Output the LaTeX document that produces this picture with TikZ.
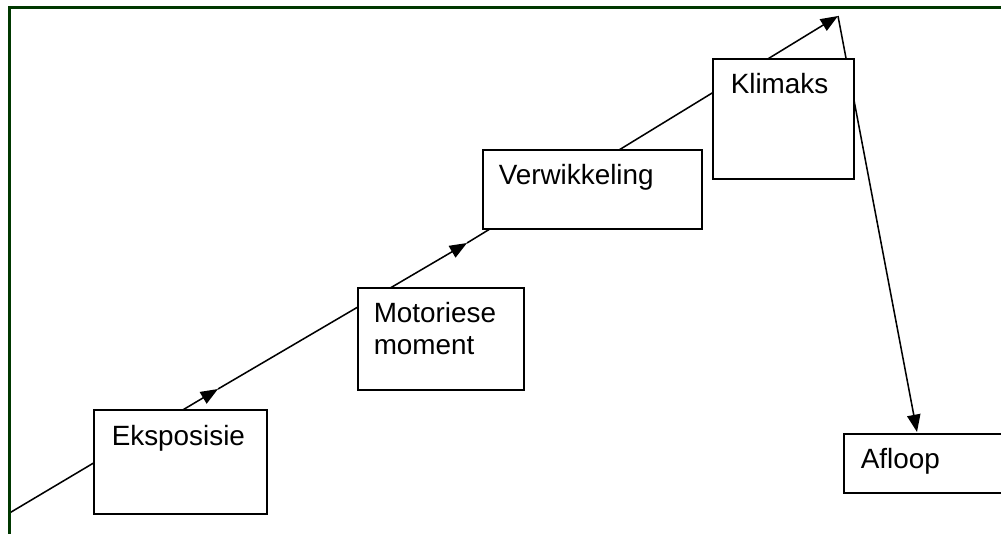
\documentclass[tikz,border=0pt]{standalone}
\usepackage{fontspec}
\setmainfont{Liberation Sans}
\usetikzlibrary{arrows.meta}
\definecolor{framegreen}{RGB}{0,56,0}
\begin{document}
\begin{tikzpicture}[x=0.75pt,y=-0.75pt,
  box/.style={draw=black,line width=1.4pt,fill=white,inner sep=0pt,anchor=north west},
  lbl/.style={inner sep=0pt,font=\fontsize{20.9pt}{24pt}\selectfont,align=left},
  conn/.style={line width=1.15pt,-{Triangle[length=13pt,width=10pt]}},
  frameline/.style={draw=framegreen,line width=2.5pt}]
\useasboundingbox (0,0) rectangle (1001,533);
\clip (0,0) rectangle (1001,533);
% arrow tips
\coordinate (p0) at (9.5,513);
\coordinate (p1) at (218,389);
\coordinate (p2) at (467,243);
\coordinate (p3) at (838,16);
\coordinate (p4) at (917,432);
\draw[conn] (p0) -- (p1);
\draw[conn] (p1) -- (p2);
\draw[conn] (p2) -- (p3);
\draw[conn] (p3) -- (p4);
% boxes
\node[box,minimum width=129.75pt,minimum height=78pt] (eks) at (93,409) {};
\node[box,minimum width=124.5pt,minimum height=76.5pt] (mot) at (357,287) {};
\node[box,minimum width=164.25pt,minimum height=59.25pt] (ver) at (482,149) {};
\node[box,minimum width=105.75pt,minimum height=90pt] (kli) at (712,58) {};
\node[box,minimum width=135pt,minimum height=44.25pt] (afl) at (843,433) {};
% labels
\node[lbl,anchor=base west] (teks) at (111.5,445) {Eksposisie};
\node[lbl,anchor=north west] (tmot) at (373.5,302.5) {Motoriese\\moment};
\node[lbl,anchor=base west] (tver) at (498.5,184) {Verwikkeling};
\node[lbl,anchor=base west] (tkli) at (730.5,93) {Klimaks};
\node[lbl,anchor=base west] (tafl) at (860.5,468) {Afloop};
% frame
\draw[frameline] (9.5,560) -- (9.5,7.5) -- (1010,7.5);
\end{tikzpicture}
\end{document}
